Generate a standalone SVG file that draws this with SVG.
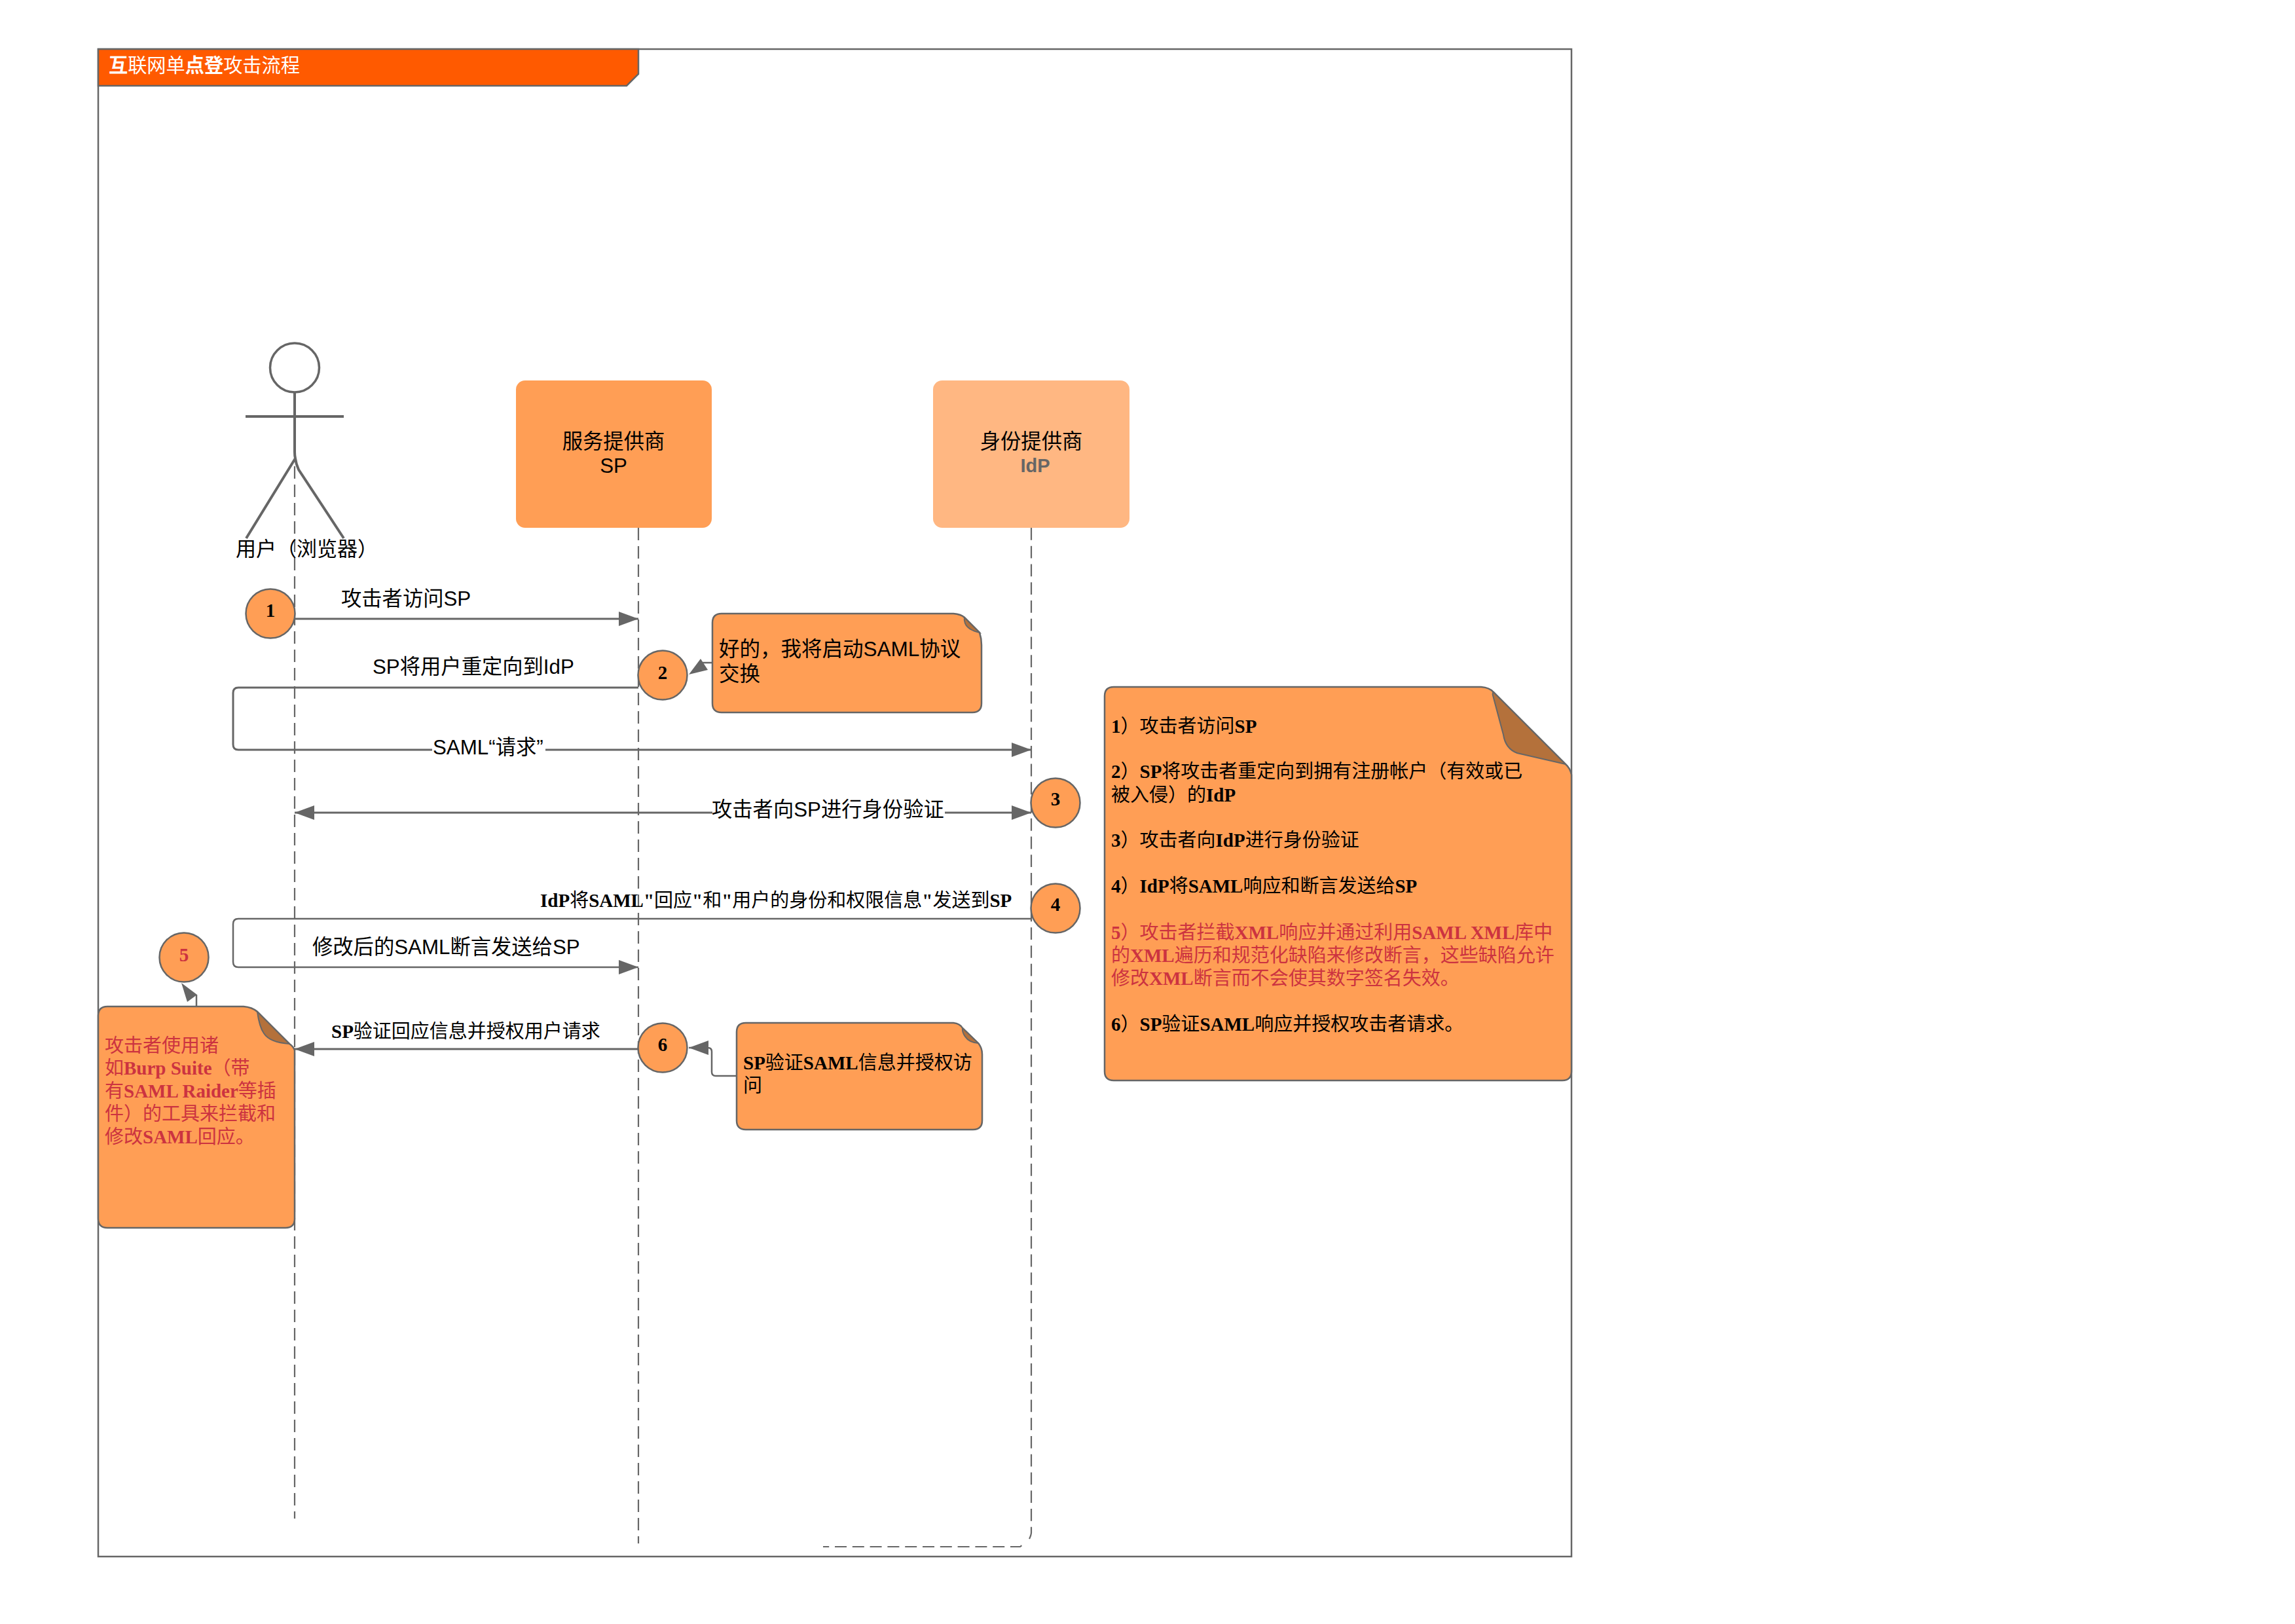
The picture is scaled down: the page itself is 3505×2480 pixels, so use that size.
<svg xmlns="http://www.w3.org/2000/svg" width="3505" height="2480" viewBox="0 0 3505 2480">
<style>
text{font-family:"Liberation Sans","Noto Sans CJK SC",sans-serif;font-size:31.3px;fill:#000}
.t{font-family:"Noto Sans CJK SC",sans-serif;font-size:29px}
.b{font-family:"Liberation Serif","Noto Sans CJK SC",serif;font-weight:bold}
.red{fill:#CC3340}.red tspan{fill:#CC3340}
.num{font-family:"Liberation Serif",serif;font-weight:bold;font-size:29px;text-anchor:middle}
.c{text-anchor:middle}
.life{fill:none;stroke:#666;stroke-width:2.2;stroke-dasharray:19 9}
.conn{fill:none;stroke:#666;stroke-width:3}
.thin{stroke-width:2.5}
.ball{fill:#FF9E55;stroke:#666;stroke-width:2.5}
.note{fill:#FF9E55;stroke:#666;stroke-width:2.5}
.fold{fill:#B4713B;stroke:#666;stroke-width:2}
.ah{fill:#666;stroke:none}
</style>
<defs>
<marker id="arrow" markerUnits="userSpaceOnUse" markerWidth="30" markerHeight="22" refX="30" refY="11" orient="auto-start-reverse"><path class="ah" d="M0 0L30 11L0 22Z"/></marker>
</defs>
<g id="frame">
<rect x="150" y="75" width="2250" height="2302" fill="#fff" stroke="#666" stroke-width="2.5"/>
<path d="M150 75H975V113L957 131H150Z" fill="#FF5A00" stroke="#666" stroke-width="2.5"/>
<text x="166" y="110" style="font-size:29.2px;font-family:'Noto Sans CJK SC',sans-serif;fill:#fff"><tspan font-weight="bold">互</tspan>联网单<tspan font-weight="bold">点登</tspan>攻击流程</text>
</g>
<g id="connectors">
<path class="life" stroke-dashoffset="16" d="M450 700V2319"/>
<path class="life" d="M975 806V2357"/>
<path class="life" style="stroke-dasharray:18.8 8.94" d="M1575 806V2340Q1575 2344 1572 2350"/>
<path class="life" style="stroke-dasharray:18 8.8" stroke-dashoffset="8.8" d="M1257 2362H1558L1563 2358"/>
<path class="conn" d="M450 945H975" marker-end="url(#arrow)"/>
<path class="conn" d="M975 1050H364Q356 1050 356 1058V1137Q356 1145 364 1145H660M833 1145H1575" marker-end="url(#arrow)"/>
<path class="conn" d="M450 1241H1088M1443 1241H1575" marker-start="url(#arrow)" marker-end="url(#arrow)"/>
<path class="conn thin" d="M1575 1403H364Q356 1403 356 1411V1469Q356 1477 364 1477H975" marker-end="url(#arrow)"/>
<path class="conn" d="M975 1602H450" marker-end="url(#arrow)"/>
<path class="conn thin" d="M1125 1643H1093Q1087 1643 1087 1637V1606Q1087 1600 1081 1600H1052" marker-end="url(#arrow)"/>
<path class="conn thin" d="M1088 1012H1072"/>
<polygon class="ah" points="1052,1030 1070,1006 1081,1023"/>
<path class="conn thin" d="M300 1537V1519"/>
<polygon class="ah" points="277,1501 286,1530 301,1519"/>
</g>
<g id="labels">
<text x="521" y="925">攻击者访问SP</text>
<text x="569" y="1029">SP将用户重定向到IdP</text>
<text x="661" y="1152">SAML“请求”</text>
<text x="1087" y="1247">攻击者向SP进行身份验证</text>
<text x="825" y="1385" class="t"><tspan class="b">IdP</tspan>将<tspan class="b">SAML"</tspan>回应<tspan class="b">"</tspan>和<tspan class="b">"</tspan>用户的身份和权限信息<tspan class="b">"</tspan>发送到<tspan class="b">SP</tspan></text>
<text x="477" y="1457">修改后的SAML断言发送给SP</text>
<text x="506" y="1585" class="t"><tspan class="b">SP</tspan>验证回应信息并授权用户请求</text>
</g>
<g id="actor-user" fill="none" stroke="#666" stroke-width="3.5">
<circle cx="450" cy="561.5" r="37.5"/>
<path d="M375 636H525" stroke-width="4"/>
<path d="M450 600V690Q450 696 451 700L376 822M451 700Q452 708 456 717L525 822" stroke-width="4"/>
<text x="360" y="849" style="stroke:none;font-size:31px">用户（浏览器）</text>
</g>
<g id="node-sp">
<rect x="788" y="581" width="299" height="225" rx="14" fill="#FF9E55"/>
<text class="c" x="937" y="685">服务提供商</text>
<text class="c" x="937" y="722">SP</text>
</g>
<g id="node-idp">
<rect x="1425" y="581" width="300" height="225" rx="14" fill="#FFB782"/>
<text class="c" x="1575" y="685">身份提供商</text>
<text class="c" x="1581" y="721" style="font-weight:bold;font-size:29px;fill:#666">IdP</text>
</g>
<g id="step-1"><circle class="ball" cx="413" cy="937" r="37.5"/><text class="num" x="413" y="942">1</text></g>
<g id="step-2"><circle class="ball" cx="1012" cy="1031" r="37.5"/><text class="num" x="1012" y="1037">2</text></g>
<g id="step-3"><circle class="ball" cx="1612" cy="1226" r="37.5"/><text class="num" x="1612" y="1230">3</text></g>
<g id="step-4"><circle class="ball" cx="1612" cy="1387" r="37.5"/><text class="num" x="1612" y="1391">4</text></g>
<g id="step-5"><circle class="ball" cx="281" cy="1462" r="37.5"/><text class="num" x="281" y="1468" style="fill:#CC3340">5</text></g>
<g id="step-6"><circle class="ball" cx="1012" cy="1600" r="37.5"/><text class="num" x="1012" y="1605">6</text></g>
<g id="note-start">
<path class="note" d="M1102 937H1456Q1468 938 1473 943L1496 966Q1499 975 1499 985V1074Q1499 1088 1485 1088H1102Q1088 1088 1088 1074V951Q1088 937 1102 937Z"/>
<path class="fold" d="M1473 943L1496 966Q1478 962 1474 952Q1472 947 1473 943Z"/>
<text x="1098" y="1002" style="font-size:31.5px">好的，我将启动SAML协议</text>
<text x="1098" y="1040" style="font-size:31.5px">交换</text>
</g>
<g id="note-steps">
<path class="note" d="M1701 1049H2262Q2275 1050 2281 1057L2391 1167Q2398 1173 2400 1183V1636Q2400 1650 2386 1650H1701Q1687 1650 1687 1636V1063Q1687 1049 1701 1049Z"/>
<path class="fold" d="M2281 1057L2391 1167L2317 1150Q2299 1143 2296 1122L2280 1062Q2279 1058 2281 1057Z"/>
<text class="t" x="1697" y="1119"><tspan class="b">1</tspan>）攻击者访问<tspan class="b">SP</tspan></text>
<text class="t" x="1697" y="1188"><tspan class="b">2</tspan>）<tspan class="b">SP</tspan>将攻击者重定向到拥有注册帐户（有效或已</text>
<text class="t" x="1697" y="1224">被入侵）的<tspan class="b">IdP</tspan></text>
<text class="t" x="1697" y="1293"><tspan class="b">3</tspan>）攻击者向<tspan class="b">IdP</tspan>进行身份验证</text>
<text class="t" x="1697" y="1363"><tspan class="b">4</tspan>）<tspan class="b">IdP</tspan>将<tspan class="b">SAML</tspan>响应和断言发送给<tspan class="b">SP</tspan></text>
<text class="t red" x="1697" y="1434"><tspan class="b">5</tspan>）攻击者拦截<tspan class="b">XML</tspan>响应并通过利用<tspan class="b">SAML XML</tspan>库中</text>
<text class="t red" x="1697" y="1469">的<tspan class="b">XML</tspan>遍历和规范化缺陷来修改断言，这些缺陷允许</text>
<text class="t red" x="1697" y="1504">修改<tspan class="b">XML</tspan>断言而不会使其数字签名失效。</text>
<text class="t" x="1697" y="1574"><tspan class="b">6</tspan>）<tspan class="b">SP</tspan>验证<tspan class="b">SAML</tspan>响应并授权攻击者请求。</text>
</g>
<g id="note-intercept">
<path class="note" d="M164 1537H372Q385 1538 393 1545L442 1594Q448 1598 450 1604V1861Q450 1875 436 1875H164Q150 1875 150 1861V1551Q150 1537 164 1537Z"/>
<path class="fold" d="M393 1545L442 1594Q412 1592 403 1578Q396 1568 393 1545Z"/>
<text class="t red" x="160" y="1607">攻击者使用诸</text>
<text class="t red" x="160" y="1641">如<tspan class="b">Burp Suite</tspan>（带</text>
<text class="t red" x="160" y="1676">有<tspan class="b">SAML Raider</tspan>等插</text>
<text class="t red" x="160" y="1711">件）的工具来拦截和</text>
<text class="t red" x="160" y="1746">修改<tspan class="b">SAML</tspan>回应。</text>
</g>
<g id="note-verify">
<path class="note" d="M1139 1562H1456Q1466 1563 1470 1570L1494 1593Q1500 1600 1500 1610V1711Q1500 1725 1486 1725H1139Q1125 1725 1125 1711V1576Q1125 1562 1139 1562Z"/>
<path class="fold" d="M1470 1570L1494 1593Q1480 1592 1474 1583Q1469 1576 1470 1570Z"/>
<text class="t" x="1135" y="1633"><tspan class="b">SP</tspan>验证<tspan class="b">SAML</tspan>信息并授权访</text>
<text class="t" x="1135" y="1668">问</text>
</g>
</svg>
